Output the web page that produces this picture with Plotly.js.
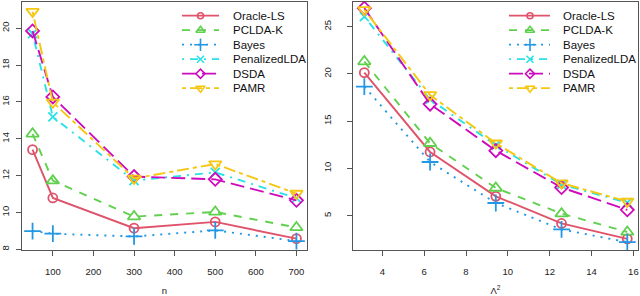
<!DOCTYPE html>
<html><head><meta charset="utf-8">
<script src="https://cdn.plot.ly/plotly-3.0.1.min.js"></script>
<style>html,body{margin:0;padding:0;background:#fff}#plot{width:640px;height:296px}</style>
</head><body><div id="plot"></div>
<script>
// ---- data ----
const methods = ["Oracle-LS","PCLDA-K","Bayes","PenalizedLDA","DSDA","PAMR"];
const nValues = [50,100,300,500,700];
const lambdaValues = [3.1416,6.2832,9.4248,12.5664,15.708];
const xTicksN = [100,200,300,400,500,600,700];
const xTicksL = [4,6,8,10,12,14,16];
const yTicksN = [8,10,12,14,16,18,20];
const yTicksL = [5,10,15,20,25];
// left panel (vs n)
const oracleN  = [13.41,10.79,9.15,9.49,8.58];
const pcldaN   = [14.27,11.73,9.78,10.03,9.19];
const bayesN   = [8.99,8.85,8.70,9.03,8.45];
const penN     = [19.70,15.19,11.73,12.18,10.78];
const dsdaN    = [19.85,16.27,11.95,11.80,10.66];
const pamrN    = [20.90,15.98,11.85,12.63,11.03];
// right panel (vs Lambda^2)
const oracleL  = [20.13,11.74,7.05,4.18,2.55];
const pcldaL   = [21.30,12.66,7.93,5.22,3.28];
const bayesL   = [18.65,10.68,6.34,3.55,2.20];
const penL     = [26.06,17.30,12.45,8.30,6.38];
const dsdaL    = [26.95,16.80,11.88,7.98,5.62];
const pamrL    = [26.77,17.77,12.66,8.44,6.50];

const seriesN = [oracleN,pcldaN,bayesN,penN,dsdaN,pamrN];
const seriesL = [oracleL,pcldaL,bayesL,penL,dsdaL,pamrL];

// ---- styles ----
const colors = ["#DF536B","#61D04F","#2297E6","#28E2E5","#CD0BBC","#F5C710"];
const dashes = ["solid","8px,8px","2px,6px","2px,6px,8px,6px","14px,6px","4px,4px,12px,4px"];
const symbols = ["circle-open","triangle-up-open","cross-thin-open","x-thin-open","diamond-open","triangle-down-open"];
const sizes = [9,11,12,9,10,11];
const legSizes = [6,8,9,7,7,8];

const traces = [];
methods.forEach((m,i)=>{
  traces.push({x:nValues,y:seriesN[i],xaxis:'x',yaxis:'y',type:'scatter',mode:'lines+markers',
    line:{color:colors[i],width:1.9,dash:dashes[i]},
    marker:{symbol:symbols[i],size:sizes[i],color:colors[i],line:{color:colors[i],width:1.8}},
    showlegend:false,name:m});
  traces.push({x:lambdaValues,y:seriesL[i],xaxis:'x2',yaxis:'y2',type:'scatter',mode:'lines+markers',
    line:{color:colors[i],width:1.9,dash:dashes[i]},
    marker:{symbol:symbols[i],size:sizes[i],color:colors[i],line:{color:colors[i],width:1.8}},
    showlegend:false,name:m});
});

// custom legends drawn on a pixel overlay axis
const W=640,H=296;
const legends = [{x0:182,x1:219,xm:200.5,xt:230.5},{x0:509,x1:550,xm:530,xt:561}];
const rowY0 = 15.7, rowDy = 14.5;
const annotations = [];
legends.forEach(lg=>{
  methods.forEach((m,i)=>{
    const yy = rowY0 + i*rowDy;
    traces.push({x:[lg.x0,lg.x1],y:[yy,yy],xaxis:'x3',yaxis:'y3',type:'scatter',mode:'lines',
      line:{color:colors[i],width:1.8,dash:dashes[i]},showlegend:false,hoverinfo:'skip'});
    traces.push({x:[lg.xm],y:[yy],xaxis:'x3',yaxis:'y3',type:'scatter',mode:'markers',
      marker:{symbol:symbols[i],size:legSizes[i],color:colors[i],line:{color:colors[i],width:1.6}},
      showlegend:false,hoverinfo:'skip'});
    annotations.push({text:m,xref:'paper',yref:'paper',x:lg.xt/W,y:1-yy/H,xanchor:'left',yanchor:'middle',
      showarrow:false,font:{family:'Liberation Sans, Arial, sans-serif',size:11.5,color:'#111'}});
  });
});

const fontT = {family:'Liberation Sans, Arial, sans-serif',size:9.5,color:'#222'};
const axBase = {showgrid:false,zeroline:false,showline:true,mirror:true,linecolor:'#555',linewidth:1,
  ticks:'outside',ticklen:5,tickcolor:'#555',tickwidth:1,tickfont:fontT,automargin:false};
const yDom = [(H-250.3)/H,(H-2)/H];

const layout = {
  width:W,height:H,margin:{l:0,r:0,t:0,b:0},paper_bgcolor:'#fff',plot_bgcolor:'rgba(0,0,0,0)',
  showlegend:false,
  xaxis:Object.assign({},axBase,{domain:[22/W,307/W],range:[24,726],tickvals:xTicksN,ticktext:xTicksN.map(String),
    ticklabelstandoff:7,title:{text:'n',font:fontT,standoff:13},anchor:'y'}),
  yaxis:Object.assign({},axBase,{domain:yDom,range:[7.95,21.42],tickvals:yTicksN,ticktext:yTicksN.map(String),
    tickangle:-90,ticklabelstandoff:3,anchor:'x'}),
  xaxis2:Object.assign({},axBase,{domain:[353/W,638/W],range:[2.6,16.22],tickvals:xTicksL,ticktext:xTicksL.map(String),
    ticklabelstandoff:7,title:{text:'Λ<sup>2</sup>',font:fontT,standoff:11},anchor:'y2'}),
  yaxis2:Object.assign({},axBase,{domain:yDom,range:[1.34,27.6],tickvals:yTicksL,ticktext:yTicksL.map(String),
    tickangle:-90,ticklabelstandoff:12,anchor:'x2'}),
  xaxis3:{domain:[0,1],range:[0,W],visible:false,fixedrange:true,anchor:'y3'},
  yaxis3:{domain:[0,1],range:[H,0],visible:false,fixedrange:true,anchor:'x3'},
  annotations:annotations
};
Plotly.newPlot('plot',traces,layout,{staticPlot:true,displayModeBar:false});
</script></body></html>
